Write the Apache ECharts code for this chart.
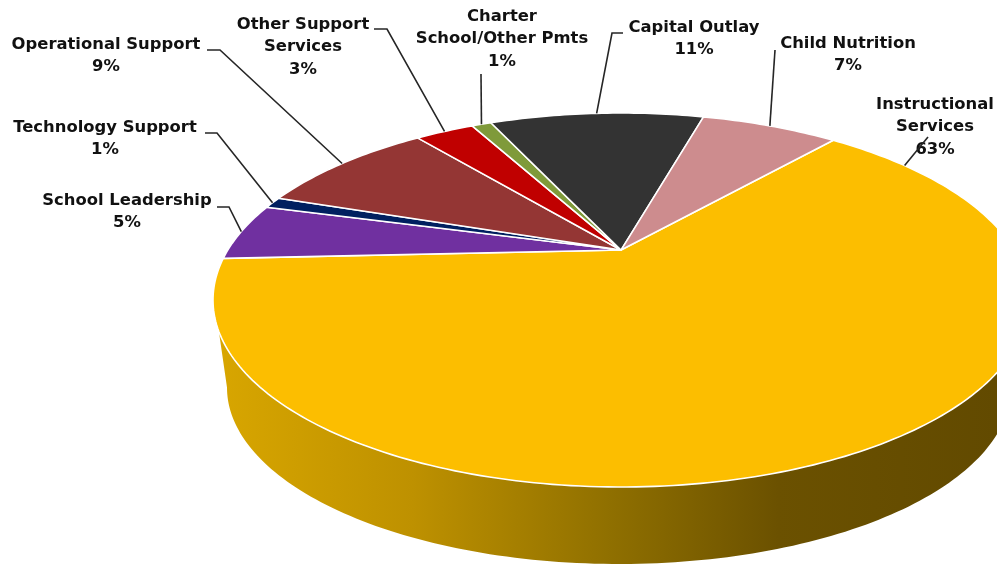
<!DOCTYPE html>
<html>
<head>
<meta charset="utf-8">
<style>html,body{margin:0;padding:0;background:#fff}#chart{width:997px;height:564px}</style>
<script src="https://cdn.jsdelivr.net/npm/echarts@6/dist/echarts.min.js"></script>
</head>
<body>
<div id="chart"></div>
<script>
// Budget shares in percent, clockwise from Instructional Services
const categories = ['Instructional\nServices', 'School Leadership', 'Technology Support', 'Operational Support', 'Other Support\nServices', 'Charter\nSchool/Other Pmts', 'Capital Outlay', 'Child Nutrition'];
const shares = [63, 5, 1, 9, 3, 1, 11, 7];
const sliceColors = ['#FCBE00', '#7030A0', '#002060', '#943634', '#C00000', '#7F9A3A', '#333333', '#CD8C8E'];

// Label placement: centre x, first line y, and leader points running toward the rim
const labelCentres = [[935, 104], [127, 200], [105, 127], [106, 44], [303, 24], [502, 16], [694, 27], [848, 43]];
const leaderPaths = [
  [[928, 137]],
  [[217, 207], [229, 207]],
  [[205, 133], [217, 133]],
  [[207, 50], [220, 50]],
  [[374, 29], [387, 29]],
  [[481, 74]],
  [[623, 33], [612, 33]],
  [[775, 50]]
];
// Rim angle for a leader whose end sits away from its slice's middle
const leaderAngleOverride = { 0: 56 };

// Tilted disc: the top face and the smaller bottom edge seen in perspective
const topFace = { cx: 621, cy: 300, rx: 408, ry: 187 };
const bottomEdge = { cx: 619, cy: 387.5, rx: 392, ry: 176.5 };
const tilt = -0.267;
const startAngle = 40.5;
// Compass limits of the visible wall on the top rim and on the bottom edge
const wallRange = [100, 245.3];
const wallBottomRange = [100, 254.5];

// Projects a compass angle on the disc to the screen, moving the hub off the ellipse centre
function project(deg, face) {
  const a = deg * Math.PI / 180;
  const u = Math.sin(a), v = -Math.cos(a);
  const w = 1 + tilt * v;
  return [
    face.cx + face.rx * u * Math.sqrt(1 - tilt * tilt) / w,
    face.cy + face.ry * (v + tilt) / w
  ];
}
function arc(from, to, face) {
  const pts = [];
  const n = Math.max(2, Math.ceil(Math.abs(to - from)));
  for (let i = 0; i <= n; i++) pts.push(project(from + (to - from) * i / n, face));
  return pts;
}

const total = shares.reduce((s, x) => s + x, 0);
const starts = [];
shares.reduce((acc, x, i) => { starts[i] = acc; return acc + x; }, 0);

const wallFill = new echarts.graphic.LinearGradient(217, 0, 997, 0, [
  { offset: 0, color: '#D8A600' },
  { offset: 0.25, color: '#BE9100' },
  { offset: 0.5, color: '#907000' },
  { offset: 0.72, color: '#6B5100' },
  { offset: 1, color: '#624A00' }
], true);

function renderSlice(params, api) {
  const i = params.dataIndex;
  const sweep = api.value(0) / total * 360;
  const from = startAngle + starts[i] / total * 360;
  const to = from + sweep;
  const hub = [topFace.cx, topFace.cy + topFace.ry * tilt];
  const children = [];

  // Outer wall, only where the slice faces the viewer
  const wFrom = Math.max(from, wallRange[0]);
  const wTo = Math.min(to, wallRange[1]);
  if (wTo > wFrom) {
    const bTo = Math.min(to, wallBottomRange[1]);
    children.push({
      type: 'polygon',
      shape: { points: arc(wFrom, wTo, topFace).concat(arc(bTo, wFrom, bottomEdge)) },
      style: { fill: wallFill, stroke: null },
      z2: 1
    });
  }

  children.push({
    type: 'polygon',
    shape: { points: [hub].concat(arc(from, to, topFace)) },
    style: { fill: sliceColors[i], stroke: '#FFFFFF', lineWidth: 1.6, lineJoin: 'round' },
    z2: 2
  });

  const anchorAngle = leaderAngleOverride[i] !== undefined ? leaderAngleOverride[i] : (from + to) / 2;
  children.push({
    type: 'polyline',
    shape: { points: leaderPaths[i].concat([project(anchorAngle, topFace)]) },
    style: { fill: null, stroke: '#262626', lineWidth: 1.6 },
    z2: 4
  });

  children.push({
    type: 'text',
    x: labelCentres[i][0],
    y: labelCentres[i][1] - 11,
    style: {
      text: categories[i] + '\n' + api.value(0) + '%',
      font: 'bold 16.4px "DejaVu Sans"',
      fill: '#111111',
      align: 'center',
      verticalAlign: 'top',
      lineHeight: 22.5
    },
    z2: 3
  });

  return { type: 'group', children };
}

const chart = echarts.init(document.getElementById('chart'), null, { renderer: 'canvas' });
chart.setOption({
  animation: false,
  backgroundColor: '#FFFFFF',
  series: [{
    type: 'custom',
    coordinateSystem: 'none',
    clip: false,
    silent: true,
    data: shares.map(v => [v]),
    renderItem: renderSlice
  }]
});
</script>
</body>
</html>
